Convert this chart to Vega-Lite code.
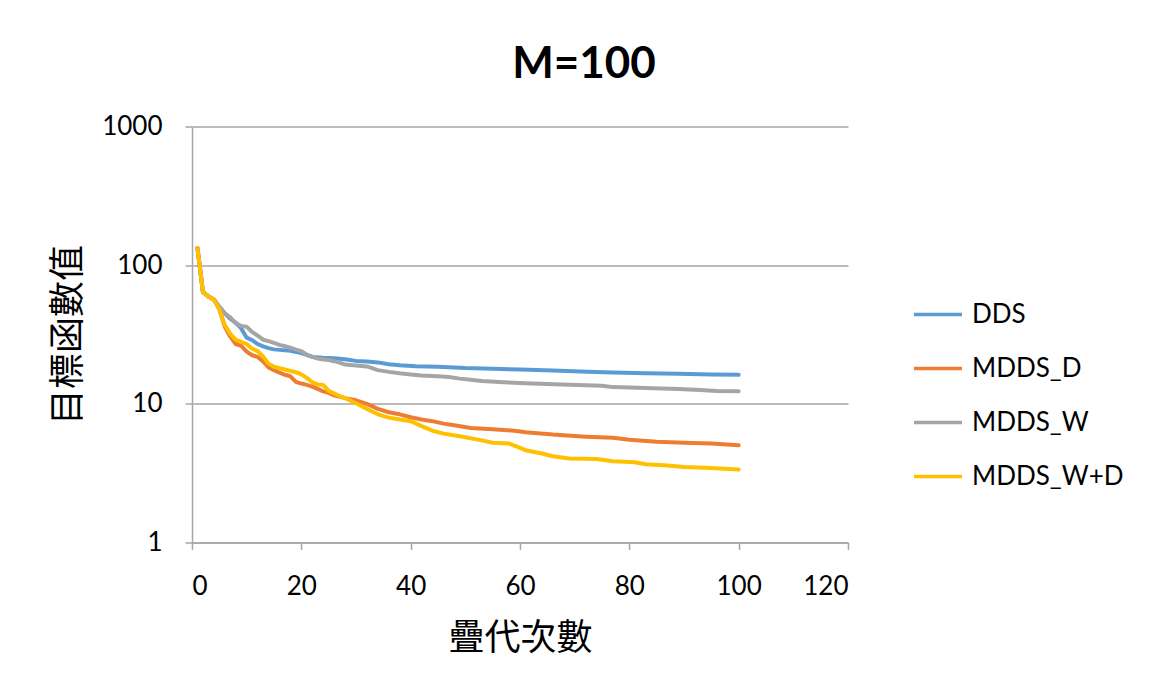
{
  "$schema": "https://vega.github.io/schema/vega-lite/v6.json",
  "autosize": {"type": "none"},
  "width": 656,
  "height": 416,
  "padding": {"left": 192, "top": 126.5, "right": 308, "bottom": 143.5},
  "background": "white",
  "title": {"text": "M=100", "fontSize": 44, "font": "Lato", "fontWeight": "bold", "color": "#000000", "anchor": "middle", "dx": 64, "baseline": "alphabetic", "offset": -8},
  "config": {"view": {"stroke": null}},
  "datasets": {
    "dds": [
      {"it": 1, "v": 133}, {"it": 2, "v": 64}, {"it": 3, "v": 59.5}, {"it": 4, "v": 56.5}, {"it": 5, "v": 50},
      {"it": 6, "v": 45}, {"it": 7, "v": 41}, {"it": 8, "v": 38.5}, {"it": 9, "v": 35}, {"it": 10, "v": 30},
      {"it": 11, "v": 28.8}, {"it": 12, "v": 27}, {"it": 13, "v": 26}, {"it": 14, "v": 25.2}, {"it": 15, "v": 24.7},
      {"it": 16, "v": 24.5}, {"it": 18, "v": 24.1}, {"it": 20, "v": 23.2}, {"it": 22, "v": 21.8}, {"it": 24, "v": 21.5},
      {"it": 26, "v": 21.3}, {"it": 28, "v": 21.0}, {"it": 30, "v": 20.4}, {"it": 32, "v": 20.2}, {"it": 34, "v": 19.9},
      {"it": 36, "v": 19.3}, {"it": 38, "v": 19.0}, {"it": 41, "v": 18.7}, {"it": 45, "v": 18.5}, {"it": 50, "v": 18.1},
      {"it": 55, "v": 17.9}, {"it": 60, "v": 17.7}, {"it": 66, "v": 17.4}, {"it": 71, "v": 17.1}, {"it": 77, "v": 16.8},
      {"it": 83, "v": 16.6}, {"it": 89, "v": 16.5}, {"it": 95, "v": 16.3}, {"it": 100, "v": 16.2}
    ],
    "mddsd": [
      {"it": 1, "v": 133}, {"it": 2, "v": 64}, {"it": 3, "v": 59.5}, {"it": 4, "v": 56.5}, {"it": 5, "v": 48},
      {"it": 6, "v": 36}, {"it": 7, "v": 30.5}, {"it": 8, "v": 27}, {"it": 9, "v": 26.2}, {"it": 10, "v": 23.8},
      {"it": 11, "v": 22.4}, {"it": 12, "v": 21.8}, {"it": 13, "v": 20.2}, {"it": 14, "v": 18.3}, {"it": 15, "v": 17.5},
      {"it": 16, "v": 16.8}, {"it": 17, "v": 16.2}, {"it": 18, "v": 15.8}, {"it": 19, "v": 14.4}, {"it": 20, "v": 14.0},
      {"it": 21, "v": 13.7}, {"it": 22, "v": 13.3}, {"it": 23, "v": 12.8}, {"it": 24, "v": 12.3}, {"it": 25, "v": 12.0},
      {"it": 26, "v": 11.5}, {"it": 28, "v": 11.0}, {"it": 30, "v": 10.6}, {"it": 31, "v": 10.3}, {"it": 32, "v": 10.0},
      {"it": 34, "v": 9.2}, {"it": 36, "v": 8.7}, {"it": 38, "v": 8.4}, {"it": 40, "v": 8.0}, {"it": 42, "v": 7.7},
      {"it": 44, "v": 7.5}, {"it": 46, "v": 7.2}, {"it": 48, "v": 7.0}, {"it": 51, "v": 6.7}, {"it": 55, "v": 6.55},
      {"it": 59, "v": 6.4}, {"it": 61, "v": 6.24}, {"it": 66, "v": 6.0}, {"it": 72, "v": 5.8}, {"it": 77, "v": 5.69},
      {"it": 80, "v": 5.5}, {"it": 85, "v": 5.33}, {"it": 90, "v": 5.24}, {"it": 95, "v": 5.17}, {"it": 100, "v": 5.03}
    ],
    "mddsw": [
      {"it": 1, "v": 133}, {"it": 2, "v": 64}, {"it": 3, "v": 59.5}, {"it": 4, "v": 56.5}, {"it": 5, "v": 50},
      {"it": 6, "v": 45}, {"it": 7, "v": 42}, {"it": 8, "v": 38}, {"it": 9, "v": 36.5}, {"it": 10, "v": 36},
      {"it": 11, "v": 33}, {"it": 12, "v": 31}, {"it": 13, "v": 29}, {"it": 14, "v": 28.3}, {"it": 15, "v": 27.5},
      {"it": 16, "v": 26.6}, {"it": 17, "v": 26}, {"it": 18, "v": 25.4}, {"it": 19, "v": 24.6}, {"it": 20, "v": 24},
      {"it": 21, "v": 22.6}, {"it": 22, "v": 21.8}, {"it": 23, "v": 21.2}, {"it": 24, "v": 20.9}, {"it": 25, "v": 20.7},
      {"it": 26, "v": 20.3}, {"it": 27, "v": 19.8}, {"it": 28, "v": 19.2}, {"it": 30, "v": 18.9}, {"it": 32, "v": 18.6},
      {"it": 34, "v": 17.5}, {"it": 36, "v": 17.0}, {"it": 38, "v": 16.6}, {"it": 40, "v": 16.3}, {"it": 42, "v": 16.0},
      {"it": 45, "v": 15.8}, {"it": 47, "v": 15.6}, {"it": 49, "v": 15.2}, {"it": 51, "v": 14.9}, {"it": 53, "v": 14.6},
      {"it": 57, "v": 14.3}, {"it": 61, "v": 14.1}, {"it": 65, "v": 13.9}, {"it": 72, "v": 13.6}, {"it": 75, "v": 13.5},
      {"it": 77, "v": 13.2}, {"it": 83, "v": 13.0}, {"it": 89, "v": 12.8}, {"it": 93, "v": 12.6}, {"it": 96, "v": 12.4},
      {"it": 100, "v": 12.3}
    ],
    "mddswd": [
      {"it": 1, "v": 133}, {"it": 2, "v": 64}, {"it": 3, "v": 59.5}, {"it": 4, "v": 56.5}, {"it": 5, "v": 48},
      {"it": 6, "v": 37}, {"it": 7, "v": 32}, {"it": 8, "v": 29}, {"it": 9, "v": 28}, {"it": 10, "v": 27},
      {"it": 11, "v": 25}, {"it": 12, "v": 24}, {"it": 13, "v": 22}, {"it": 14, "v": 19.5}, {"it": 15, "v": 18.5},
      {"it": 16, "v": 18.1}, {"it": 17, "v": 17.7}, {"it": 18, "v": 17.3}, {"it": 19, "v": 16.9}, {"it": 20, "v": 16.3},
      {"it": 21, "v": 15.4}, {"it": 22, "v": 14.3}, {"it": 23, "v": 13.8}, {"it": 24, "v": 13.7}, {"it": 25, "v": 12.4},
      {"it": 26, "v": 11.9}, {"it": 27, "v": 11.4}, {"it": 28, "v": 11.0}, {"it": 30, "v": 10.1}, {"it": 32, "v": 9.2},
      {"it": 34, "v": 8.4}, {"it": 36, "v": 7.95}, {"it": 38, "v": 7.7}, {"it": 40, "v": 7.5}, {"it": 42, "v": 6.9},
      {"it": 44, "v": 6.4}, {"it": 46, "v": 6.1}, {"it": 49, "v": 5.84}, {"it": 53, "v": 5.45}, {"it": 55, "v": 5.24},
      {"it": 58, "v": 5.17}, {"it": 59, "v": 5.0}, {"it": 61, "v": 4.63}, {"it": 64, "v": 4.38}, {"it": 66, "v": 4.19},
      {"it": 69, "v": 4.04}, {"it": 74, "v": 4.0}, {"it": 77, "v": 3.86}, {"it": 81, "v": 3.79}, {"it": 83, "v": 3.67},
      {"it": 87, "v": 3.59}, {"it": 90, "v": 3.51}, {"it": 94, "v": 3.46}, {"it": 100, "v": 3.36}
    ]
  },
  "layer": [
    {"data": {"name": "dds"}, "transform": [{"calculate": "'DDS'", "as": "s"}], "mark": {"type": "line", "strokeWidth": 4, "strokeJoin": "round", "strokeCap": "round"}, "encoding": {"x": {"field": "it"}, "y": {"field": "v"}}},
    {"data": {"name": "mddsd"}, "transform": [{"calculate": "'MDDS_D'", "as": "s"}], "mark": {"type": "line", "strokeWidth": 4, "strokeJoin": "round", "strokeCap": "round"}, "encoding": {"x": {"field": "it"}, "y": {"field": "v"}}},
    {"data": {"name": "mddsw"}, "transform": [{"calculate": "'MDDS_W'", "as": "s"}], "mark": {"type": "line", "strokeWidth": 4, "strokeJoin": "round", "strokeCap": "round"}, "encoding": {"x": {"field": "it"}, "y": {"field": "v"}}},
    {"data": {"name": "mddswd"}, "transform": [{"calculate": "'MDDS_W+D'", "as": "s"}], "mark": {"type": "line", "strokeWidth": 4, "strokeJoin": "round", "strokeCap": "round"}, "encoding": {"x": {"field": "it"}, "y": {"field": "v"}}}
  ],
  "encoding": {
    "x": {"field": "it", "type": "quantitative", "scale": {"domain": [0, 120], "nice": false, "zero": false},
      "axis": {"title": "疊代次數", "values": [0, 20, 40, 60, 80, 100, 120], "grid": false, "domainColor": "#a6a6a6", "domainWidth": 1.5, "tickColor": "#a6a6a6", "tickSize": 7, "tickWidth": 1.5, "labelFont": "Lato", "labelFontSize": 26, "labelColor": "#000000", "labelPadding": 24, "titleFont": "Noto Sans CJK TC", "titleFontSize": 36, "titleFontWeight": "normal", "titleColor": "#000000", "titlePadding": 22}},
    "y": {"field": "v", "type": "quantitative", "scale": {"type": "log", "domain": [1, 1000], "nice": false},
      "axis": {"title": "目標函數值", "values": [1, 10, 100, 1000], "format": "d", "grid": true, "gridColor": "#a6a6a6", "gridWidth": 1.5, "domainColor": "#a6a6a6", "domainWidth": 1.5, "tickColor": "#a6a6a6", "tickSize": 7, "tickWidth": 1.5, "labelFont": "Lato", "labelFontSize": 26, "labelColor": "#000000", "labelPadding": 23, "titleFont": "Noto Sans CJK TC", "titleFontSize": 36, "titleFontWeight": "normal", "titleColor": "#000000", "titlePadding": 14}},
    "color": {"field": "s", "type": "nominal", "scale": {"domain": ["DDS", "MDDS_D", "MDDS_W", "MDDS_W+D"], "range": ["#5b9bd5", "#ed7d31", "#a5a5a5", "#ffc000"]},
      "legend": {"title": null, "orient": "none", "legendX": 720, "legendY": 162, "symbolType": "stroke", "symbolSize": 2304, "symbolStrokeWidth": 3.5, "labelFont": "Lato", "labelFontSize": 26, "labelColor": "#000000", "labelOffset": 8, "rowPadding": 15}}
  }
}
